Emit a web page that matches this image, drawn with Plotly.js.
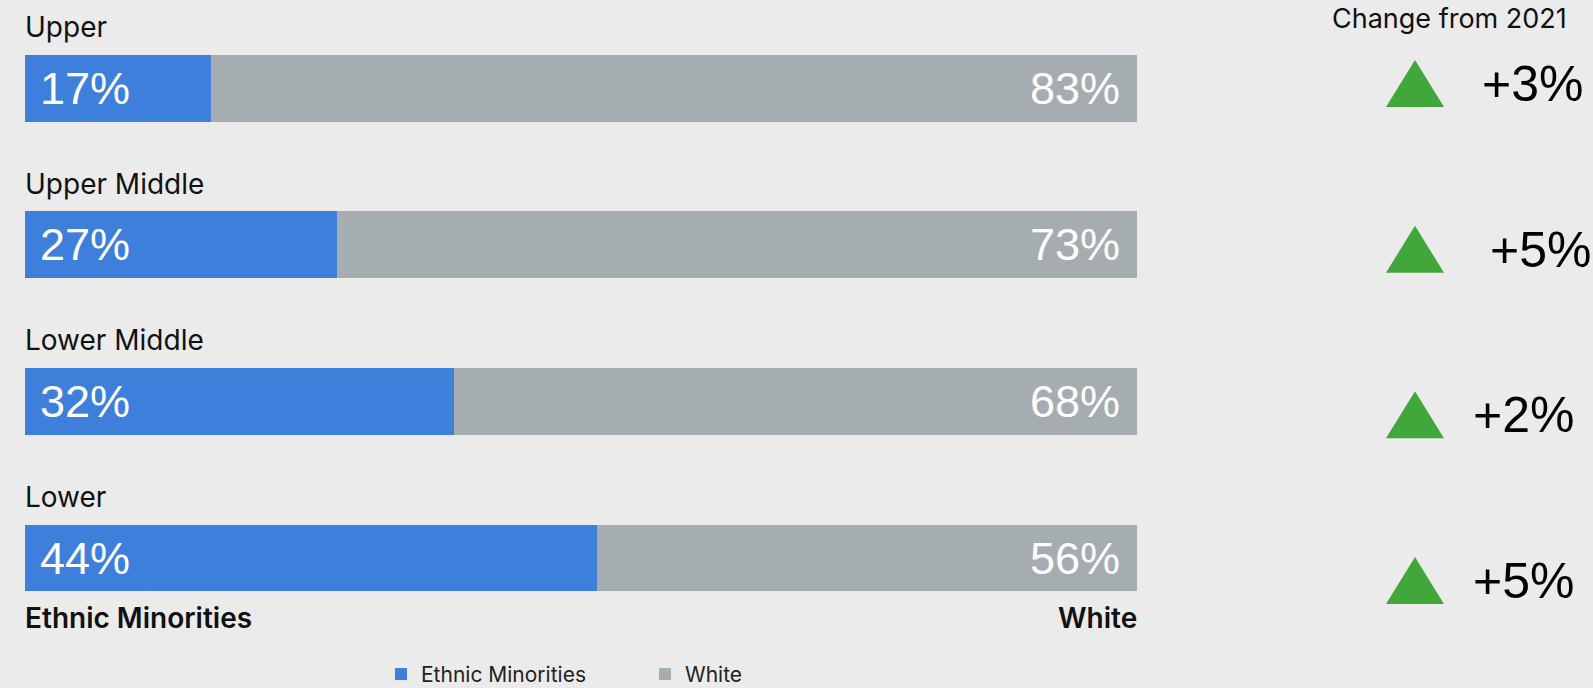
<!DOCTYPE html>
<html>
<head>
<meta charset="utf-8">
<script src="https://cdn.plot.ly/plotly-3.0.1.min.js"></script>
<style>html,body{margin:0;padding:0;background:#EBEBEB;}#chart{width:1593px;height:688px;}</style>
</head>
<body>
<div id="chart"></div>
<script>
// ---- data ----
const categories = ['Upper', 'Upper Middle', 'Lower Middle', 'Lower'];
// bar lengths as drawn in the reference picture (share of bar width, %)
const ethnicMinoritiesBar = [16.7, 28.1, 38.6, 51.4];
const whiteBar = [83.3, 71.9, 61.4, 48.6];
// value labels printed on the bars
const ethnicMinoritiesLabel = [17, 27, 32, 44];
const whiteLabel = [83, 73, 68, 56];
const changeFrom2021 = [3, 5, 2, 5];
const seriesNames = ['Ethnic Minorities', 'White'];
const changeTitle = 'Change from 2021';

// ---- styles ----
const BLUE = '#3D7FDB', GREY = '#A6ADB0', GREEN = '#42A73A', BG = '#EBEBEB';
const W = 1593, H = 688, ML = 25, MR = 456, MT = 10, MB = 50;
const plotW = W - ML - MR;
const px2paper = p => (p - ML) / plotW;
const changeTextX = [1480, 1488, 1471, 1471];
const triX = px2paper(1415);
const LABEL_FONT = 'Inter, Roboto, sans-serif';
const NUM_FONT = 'Liberation Sans, Arial, sans-serif';

const traces = [
  {type: 'bar', orientation: 'h', name: seriesNames[0], y: categories, x: ethnicMinoritiesBar,
   marker: {color: BLUE}, hoverinfo: 'name+x'},
  {type: 'bar', orientation: 'h', name: seriesNames[1], y: categories, x: whiteBar,
   marker: {color: GREY}, hoverinfo: 'name+x'},
  {type: 'scatter', mode: 'markers', x: changeFrom2021, y: categories.map((c, i) => i),
   xaxis: 'x', yaxis: 'y2', marker: {opacity: 0}, showlegend: false, hoverinfo: 'skip'}
];

const annotations = [];
const shapes = [];
categories.forEach((c, i) => {
  annotations.push({xref: 'paper', yref: 'y', x: 0, y: c, xanchor: 'left', yanchor: 'middle',
    xshift: -2, yshift: 61, showarrow: false, text: c,
    font: {family: LABEL_FONT, size: 28, color: '#111'}});
  annotations.push({xref: 'x', yref: 'y', x: 0, y: c, xanchor: 'left', yanchor: 'middle',
    xshift: 13, showarrow: false, text: ethnicMinoritiesLabel[i] + '%',
    font: {family: NUM_FONT, size: 45, color: '#FFFFFF'}});
  annotations.push({xref: 'x', yref: 'y', x: ethnicMinoritiesBar[i] + whiteBar[i], y: c, xanchor: 'right', yanchor: 'middle',
    xshift: -15, showarrow: false, text: whiteLabel[i] + '%',
    font: {family: NUM_FONT, size: 45, color: '#FFFFFF'}});
  annotations.push({xref: 'paper', yref: 'y2', x: px2paper(changeTextX[i]), y: i, xanchor: 'left', yanchor: 'middle',
    showarrow: false, text: (changeFrom2021[i] > 0 ? '+' : '') + changeFrom2021[i] + '%',
    font: {family: NUM_FONT, size: 50, color: '#000'}});
  shapes.push({type: 'path', xref: 'paper', yref: 'y2', xsizemode: 'pixel', ysizemode: 'pixel',
    xanchor: triX, yanchor: i, path: 'M-29,-23L29,-23L0,24Z',
    fillcolor: GREEN, line: {width: 0}, layer: 'above'});
});
annotations.push({xref: 'paper', yref: 'paper', x: px2paper(1449), y: 1, xanchor: 'center', yanchor: 'middle',
  yshift: -8, showarrow: false, text: changeTitle,
  font: {family: LABEL_FONT, size: 27, color: '#111'}});
annotations.push({xref: 'paper', yref: 'paper', x: 0, y: 0, xanchor: 'left', yanchor: 'middle',
  xshift: -2, yshift: 20, showarrow: false, text: seriesNames[0],
  font: {family: LABEL_FONT, size: 28, color: '#111', weight: 600}});
annotations.push({xref: 'paper', yref: 'paper', x: 1, y: 0, xanchor: 'right', yanchor: 'middle',
  xshift: 2, yshift: 20, showarrow: false, text: seriesNames[1],
  font: {family: LABEL_FONT, size: 28, color: '#111', weight: 600}});

const layout = {
  width: W, height: H,
  margin: {l: ML, r: MR, t: MT, b: MB, pad: 0, autoexpand: false},
  paper_bgcolor: BG, plot_bgcolor: BG,
  barmode: 'stack', bargap: 0.573,
  showlegend: true,
  legend: {orientation: 'h', x: px2paper(381), xanchor: 'left', y: -0.058, yanchor: 'middle',
    entrywidth: 219,
    font: {family: LABEL_FONT, size: 21, color: '#222'}, bgcolor: 'rgba(0,0,0,0)',
    traceorder: 'normal'},
  xaxis: {range: [0, 100], visible: false, fixedrange: true},
  yaxis: {type: 'category', autorange: 'reversed', visible: false, fixedrange: true},
  yaxis2: {overlaying: 'y', range: [3.344, -0.447], visible: false, fixedrange: true},
  annotations: annotations,
  shapes: shapes
};

Plotly.newPlot('chart', traces, layout, {displayModeBar: false, staticPlot: true});
</script>
</body>
</html>
